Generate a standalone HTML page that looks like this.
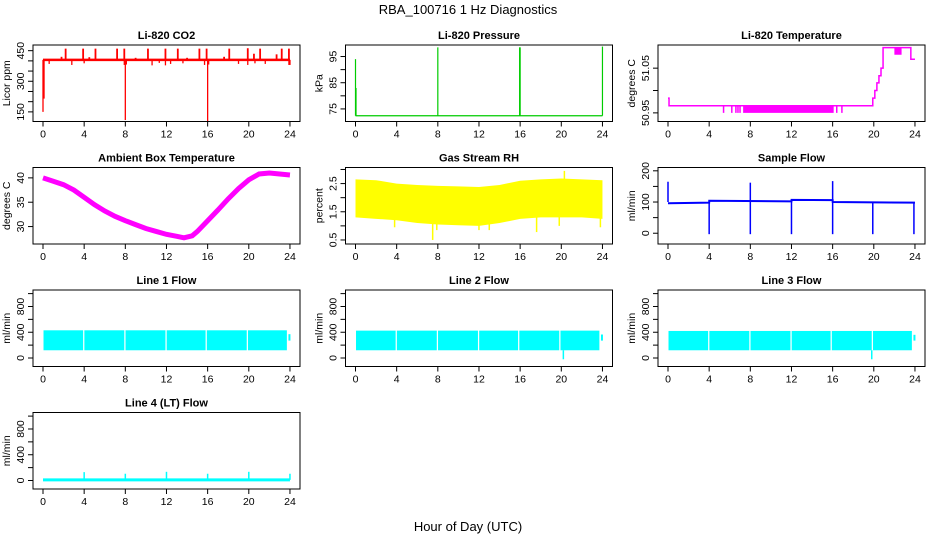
<!DOCTYPE html>
<html><head><meta charset="utf-8"><style>
html,body{margin:0;padding:0;background:#fff;}
svg{display:block;font-family:"Liberation Sans",Helvetica,Arial,sans-serif;}
</style></head><body>
<svg id="c" width="936" height="540" viewBox="0 0 936 540">
<text x="468" y="14" font-size="13" text-anchor="middle">RBA_100716  1 Hz Diagnostics</text>
<text x="468" y="531" font-size="13" text-anchor="middle">Hour of Day (UTC)</text>
</svg>
<script>
// ---- data arrays ----
const xTickHours = [0,4,8,12,16,20,24];
// CO2
const co2Base = 405;
const co2SpikeHours = [2.2,3.9,5.1,7.2,7.9,10.2,11.9,13.1,15.2,15.9,18.1,19.9,20.5,21.1,22.7,23.2,23.9,1.8,4.5,9.0,14.0,17.6];
const co2SpikeVals  = [460,460,460,460,460,460,460,460,460,460,460,462,435,460,432,460,460,420,418,415,415,420];
const co2DipHours = [0.0,0.1,0.6,2.8,4.0,7.9,8.0,8.1,10.6,11.3,11.9,12.4,13.6,15.7,16.0,16.1,19.0,19.9,20.6,21.6,23.9,24.0];
const co2DipVals  = [150,215,385,380,388,380,110,382,378,390,378,385,388,380,102,382,385,380,388,385,380,380];
// Pressure
const presBase = 72.4;
const presSpikeHours = [0.0,0.05,8.0,15.95,16.0,24.0];
const presSpikeVals  = [94,83,98.5,98.5,98.5,98.8];
// Li-820 temperature (step levels)
const ltHours = [0,0.1,19.9,20.1,20.3,20.5,20.7,20.9,23.6,24];
const ltVals  = [50.983,50.966,50.983,51.0,51.017,51.033,51.05,51.096,51.07,51.07];
const ltDipHours = [5.4,6.2,6.6,6.8,7.0,16.4,16.9];
const ltFill = [7.3,16.1,50.95,50.966];
const ltTopFill = [22.0,22.7,51.08,51.096];
// Ambient temp
const ambHours = [0,1,2,3,4,5,6,7,8,9,10,11,12,13,13.7,14.5,15,16,17,18,19,20,21,22,23,24];
const ambVals  = [40,39.3,38.6,37.5,36,34.5,33.2,32.1,31.2,30.4,29.6,29,28.4,28,27.7,28.1,29,31.2,33.4,35.7,37.8,39.6,40.8,41,40.8,40.6];
// Gas stream RH band
const rhHours = [0,2,4,6,8,10,12,14,16,18,20,22,24];
const rhLow   = [1.3,1.25,1.2,1.1,1.05,1.02,1.0,1.1,1.25,1.3,1.3,1.3,1.25];
const rhHigh  = [2.65,2.62,2.5,2.45,2.42,2.4,2.38,2.45,2.6,2.65,2.68,2.65,2.62];
const rhSpikeHours = [3.8,7.5,7.9,12.0,13.0,17.6,19.8,20.3,23.8];
const rhSpikeVals  = [0.95,0.5,0.85,0.85,0.85,0.78,1.0,2.95,0.95];
// Sample flow
const sfHours = [0,4,4.01,12,12.01,16,16.01,24];
const sfVals  = [96,98,104,102,107,106,100,98];
const sfDropHours = [4.0,8.0,12.0,16.0,19.9,23.9];
const sfSpikeHours = [0.0,8.0,16.0];
const sfSpikeVals  = [165,162,167];
// Line flows
const flowGapHours = [3.9,7.9,11.9,15.8,19.8];
const l1Low = 120, l1High = 430;
const l2Low = 120, l2High = 425;
const l3Low = 120, l3High = 420;
const l2DropHours = [20.2];
const l2DropVals = [-20];
const l3DropHours = [19.8];
const l3DropVals = [-20];
const l4Base = 10;
const l4SpikeHours = [4.0,8.0,12.0,16.0,20.0,24.0];
const l4SpikeVals  = [130,105,135,105,135,105];

// ---- drawing helpers ----
const svg = document.getElementById('c');
const NS = 'http://www.w3.org/2000/svg';
function mk(tag, attrs, parent){
  const e = document.createElementNS(NS, tag);
  for (const k in attrs) e.setAttribute(k, attrs[k]);
  (parent||svg).appendChild(e);
  return e;
}
function panel(col,row,title,ylab,dom,ticks,labels,name){
  const L = 33 + col*312.5, T = 45 + row*122.5, W = 267, H = 76.5;
  const g = mk('g',{});
  
  
  const x = h => L + 10 + h*10.29;
  const y = v => T + H - (v-dom[0])/(dom[1]-dom[0])*H;
  const t = mk('text',{x:L+W/2,y:T-6,'font-size':11,'font-weight':'bold','text-anchor':'middle'},g);
  t.textContent = title;
  
  
  const yt = mk('text',{x:0,y:0,'font-size':10.5,'text-anchor':'middle',transform:`translate(${L-23},${T+H/2}) rotate(-90)`},g);
  yt.textContent = ylab;
  
  
  // x axis
  mk('line',{x1:x(0),x2:x(24),y1:T+H,y2:T+H,stroke:'#000'},g);
  xTickHours.forEach(h=>{
    mk('line',{x1:x(h),x2:x(h),y1:T+H,y2:T+H+5,stroke:'#000'},g);
    const tl = mk('text',{x:x(h),y:T+H+16,'font-size':10.5,'text-anchor':'middle'},g);
    tl.textContent = h;
    
    
  });
  ticks.forEach((v,i)=>{
    mk('line',{x1:L-5,x2:L,y1:y(v),y2:y(v),stroke:'#000'},g);
    if (labels[i]) {
      const tl = mk('text',{x:0,y:0,'font-size':10.5,'text-anchor':'middle',transform:`translate(${L-9},${y(v)}) rotate(-90)`},g);
      tl.textContent = labels[i];
      
      
    }
  });
  const plot = mk('g',{},g);
  
  
  const clip = 'clip'+col+row;
  const cp = mk('clipPath',{id:clip},g);
  mk('rect',{x:L,y:T,width:W,height:H},cp);
  plot.setAttribute('clip-path', `url(#${clip})`);
  const box = mk('rect',{x:L,y:T,width:W,height:H,fill:'none',stroke:'#000'},g);
  
  
  return {x,y,plot,L,T,W,H};
}
function vline(p,h,v1,v2,col,w){ return mk('line',{x1:p.x(h),x2:p.x(h),y1:p.y(v1),y2:p.y(v2),stroke:col,'stroke-width':w||1.5},p.plot); }
function poly(p,hs,vs,col,w){
  return mk('polyline',{points:hs.map((h,i)=>p.x(h)+','+p.y(vs[i])).join(' '),fill:'none',stroke:col,'stroke-width':w||1.5},p.plot);
}
function band(p,hs,lo,hi,col){
  const pts = hs.map((h,i)=>p.x(h)+','+p.y(hi[i])).concat(hs.slice().reverse().map((h,i)=>p.x(h)+','+p.y(lo[hs.length-1-i])));
  return mk('polygon',{points:pts.join(' '),fill:col},p.plot);
}

// 1 CO2
let p = panel(0,0,'Li-820 CO2','Licor ppm',[102.8,477.8],[150,200,250,300,350,400,450],['150','','','300','','','450'],'co2');
poly(p,[0,24],[co2Base,co2Base],'#ff0000',2.5);
co2SpikeHours.forEach((h,i)=>vline(p,h,co2Base,co2SpikeVals[i],'#ff0000',1.8));
co2DipHours.forEach((h,i)=>vline(p,h,co2Base,co2DipVals[i],'#ff0000',1.3));
// 2 Pressure
p = panel(1,0,'Li-820 Pressure','kPa',[70.2,99.4],[75,80,85,90,95],['75','','85','','95'],'pressure');
poly(p,[0,24],[presBase,presBase],'#00cc00',1.2);
presSpikeHours.forEach((h,i)=>vline(p,h,presBase,presSpikeVals[i],'#00cc00',1.2));
// 3 Li-820 temperature
p = panel(2,0,'Li-820 Temperature','degrees C',[50.9307,51.1018],[50.95,51.0,51.05],['50.95','','51.05'],'li820-temp');
{ const hs=[],vs=[]; ltHours.forEach((h,i)=>{ if(i>0){hs.push(h);vs.push(ltVals[i-1]);} hs.push(h);vs.push(ltVals[i]); });
  poly(p,hs,vs,'#ff00ff',1.5); }
mk('rect',{x:p.x(ltFill[0]),y:p.y(ltFill[3]),width:p.x(ltFill[1])-p.x(ltFill[0]),height:p.y(ltFill[2])-p.y(ltFill[3]),fill:'#ff00ff'},p.plot);
mk('rect',{x:p.x(ltTopFill[0]),y:p.y(ltTopFill[3]),width:p.x(ltTopFill[1])-p.x(ltTopFill[0]),height:p.y(ltTopFill[2])-p.y(ltTopFill[3]),fill:'#ff00ff'},p.plot);
ltDipHours.forEach(h=>vline(p,h,50.966,50.95,'#ff00ff',1.5));
// 4 Ambient
p = panel(0,1,'Ambient Box Temperature','degrees C',[26.42,42.13],[30,35,40],['30','35','40'],'ambient-temp');
poly(p,ambHours,ambVals,'#ff00ff',5);
// 5 RH
p = panel(1,1,'Gas Stream RH','percent',[0.357,3.07],[0.5,1.0,1.5,2.0,2.5,3.0],['0.5','','1.5','','2.5',''],'gas-rh');
band(p,rhHours,rhLow,rhHigh,'#ffff00');
rhSpikeHours.forEach((h,i)=>vline(p,h,1.8,rhSpikeVals[i],'#ffff00',1.5));
// 6 Sample flow
p = panel(2,1,'Sample Flow','ml/min',[-34.5,210.6],[0,50,100,150,200],['0','','100','','200'],'sample-flow');
poly(p,sfHours,sfVals,'#0000ff',2);
sfDropHours.forEach(h=>vline(p,h,100,-3,'#0000ff',1.5));
sfSpikeHours.forEach((h,i)=>vline(p,h,100,sfSpikeVals[i],'#0000ff',1.5));
// flows
function flowPanel(col,row,title,name,lo,hi,dh,dv){
  const q = panel(col,row,title,'ml/min',[-132,1056],[0,200,400,600,800,1000],['0','','400','','800',''],name);
  const edges = [0.05].concat(flowGapHours).concat([23.7]);
  for (let i=0;i<edges.length-1;i++){
    const a = i===0?edges[0]:edges[i]+0.12, b = edges[i+1];
    mk('rect',{x:q.x(a),y:q.y(hi),width:q.x(b)-q.x(a),height:q.y(lo)-q.y(hi),fill:'#00ffff'},q.plot);
  }
  vline(q,23.95,hi-60,lo+150,'#00ffff',2);
  dh.forEach((h,i)=>vline(q,h,lo,dv[i],'#00ffff',1.5));
  return q;
}
flowPanel(0,2,'Line 1 Flow','line1-flow',l1Low,l1High,[],[]);
flowPanel(1,2,'Line 2 Flow','line2-flow',l2Low,l2High,l2DropHours,l2DropVals);
flowPanel(2,2,'Line 3 Flow','line3-flow',l3Low,l3High,l3DropHours,l3DropVals);
p = panel(0,3,'Line 4 (LT) Flow','ml/min',[-132,1056],[0,200,400,600,800,1000],['0','','400','','800',''],'line4-flow');
poly(p,[0,24],[l4Base,l4Base],'#00ffff',3);
l4SpikeHours.forEach((h,i)=>vline(p,h,l4Base,l4SpikeVals[i],'#00ffff',1.5));
</script>
</body></html>
